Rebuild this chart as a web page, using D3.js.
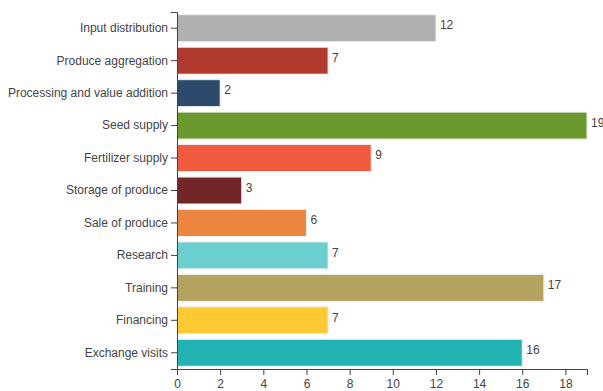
<!DOCTYPE html>
<html>
<head>
<meta charset="utf-8">
<script src="https://cdn.jsdelivr.net/npm/d3@7"></script>
<style>
  body { margin: 0; background: #fff; }
  svg { display: block; font-family: "Liberation Sans", Arial, sans-serif; }
  .axis text { font-size: 12px; fill: #444; }
  .axis path, .axis line { stroke: #444; }
  .val { font-size: 12px; fill: #444; }
</style>
</head>
<body>
<svg id="chart" width="603" height="391"></svg>
<script>
const categories = [
  "Input distribution", "Produce aggregation", "Processing and value addition",
  "Seed supply", "Fertilizer supply", "Storage of produce", "Sale of produce",
  "Research", "Training", "Financing", "Exchange visits"
];
const counts = [12, 7, 2, 19, 9, 3, 6, 7, 17, 7, 16];
const barColors = [
  "#b0b0b0", "#b03a2e", "#2c4a6b", "#6a992e", "#f05a3e", "#722628",
  "#eb8640", "#6ccfcf", "#b4a35e", "#fdca33", "#22b2b2"
];
const xTicks = [0, 2, 4, 6, 8, 10, 12, 14, 16, 18];

const margin = { top: 12, right: 16, bottom: 22, left: 177 };
const width = 603, height = 391;
const svg = d3.select("#chart");

const x = d3.scaleLinear().domain([0, 19]).range([margin.left, width - margin.right]);
const y = d3.scaleBand().domain(categories)
  .range([margin.top, height - margin.bottom]).paddingInner(0.17).paddingOuter(0.085);

const data = categories.map((c, i) => ({ c, v: counts[i], col: barColors[i] }));

svg.append("g").selectAll("rect").data(data).join("rect")
  .attr("x", x(0))
  .attr("y", d => y(d.c))
  .attr("width", d => x(d.v) - x(0))
  .attr("height", y.bandwidth())
  .attr("fill", d => d.col)
  .attr("stroke", "#eeeeee")
  .attr("stroke-width", 1);

svg.append("g").selectAll("text").data(data).join("text")
  .attr("class", "val")
  .attr("x", d => x(d.v) + 4)
  .attr("y", d => y(d.c) + y.bandwidth() / 2)
  .attr("dy", "0.1em")
  .text(d => d.v);

svg.append("g").attr("class", "axis")
  .attr("transform", `translate(${x(0)},0)`)
  .call(d3.axisLeft(y).tickSize(6).tickPadding(3));

svg.append("g").attr("class", "axis")
  .attr("transform", `translate(0,${height - margin.bottom})`)
  .call(d3.axisBottom(x).tickValues(xTicks).tickSize(6).tickPadding(4));
</script>
</body>
</html>
